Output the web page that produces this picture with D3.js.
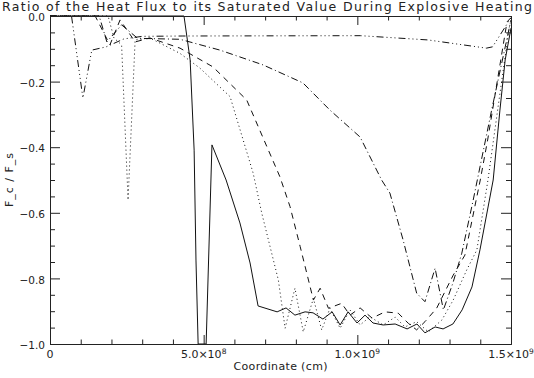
<!DOCTYPE html>
<html>
<head>
<meta charset="utf-8">
<script src="https://cdn.jsdelivr.net/npm/d3@7"></script>
<style>
  body { margin: 0; background: #fff; }
  svg { display: block; font-family: "DejaVu Sans", sans-serif; }
  text { fill: #222; }
</style>
</head>
<body>
<div id="chart"></div>
<script>
// x values in units of 1e8 cm, y = F_c / F_s
const solidX = [0, 4.36, 4.56, 4.69, 4.75, 4.82, 5.08, 5.27, 5.73, 6.18, 6.51, 6.77, 7.39, 7.68, 7.97, 8.30, 8.56, 8.88, 9.18, 9.44, 9.70, 9.99, 10.25, 10.51, 10.84, 11.23, 11.62, 11.94, 12.20, 12.53, 12.79, 13.11, 13.41, 13.73, 13.99, 14.42, 14.64, 14.81, 15.0];
const solidY = [0, 0, -0.134, -0.409, -0.744, -1.0, -1.0, -0.393, -0.5, -0.631, -0.753, -0.884, -0.902, -0.89, -0.912, -0.902, -0.905, -0.924, -0.902, -0.942, -0.902, -0.936, -0.912, -0.936, -0.942, -0.939, -0.954, -0.939, -0.966, -0.948, -0.954, -0.939, -0.896, -0.826, -0.713, -0.5, -0.287, -0.134, -0.037];

const dottedX = [0, 1.89, 2.08, 2.33, 2.54, 2.77, 3.25, 4.23, 4.88, 5.86, 6.61, 6.89, 7.16, 7.43, 7.65, 7.97, 8.24, 8.57, 8.84, 9.11, 9.44, 9.76, 10.09, 10.41, 10.84, 11.23, 11.55, 11.93, 12.31, 12.75, 13.12, 13.56, 13.89, 14.25, 14.62, 14.94, 15.0];
const dottedY = [0, 0, -0.067, -0.088, -0.561, -0.073, -0.067, -0.114, -0.159, -0.246, -0.479, -0.601, -0.703, -0.805, -0.952, -0.830, -0.963, -0.861, -0.957, -0.891, -0.952, -0.896, -0.942, -0.917, -0.942, -0.918, -0.948, -0.932, -0.963, -0.927, -0.866, -0.774, -0.713, -0.5, -0.25, -0.037, -0.012];

const dashedX = [0, 1.47, 1.95, 2.28, 2.77, 3.25, 4.23, 5.30, 6.40, 7.48, 7.81, 8.14, 8.41, 8.57, 8.79, 9.06, 9.49, 9.76, 10.09, 10.48, 10.90, 11.33, 11.66, 11.93, 12.20, 12.58, 13.12, 13.50, 14.0, 14.24, 14.87, 15.0];
const dashedY = [0, 0, -0.088, -0.012, -0.079, -0.067, -0.098, -0.155, -0.256, -0.49, -0.581, -0.703, -0.805, -0.866, -0.830, -0.891, -0.876, -0.912, -0.89, -0.921, -0.902, -0.906, -0.937, -0.957, -0.932, -0.891, -0.790, -0.729, -0.5, -0.378, -0.018, -0.005];

const dashDotX = [0, 1.6, 1.85, 2.33, 2.85, 4.23, 5.53, 6.93, 8.23, 9.11, 10.09, 10.79, 11.06, 11.49, 11.93, 12.20, 12.53, 12.80, 13.11, 13.40, 13.77, 14.37, 15.0];
const dashDotY = [0, 0, -0.079, -0.027, -0.068, -0.071, -0.104, -0.149, -0.204, -0.287, -0.369, -0.5, -0.540, -0.683, -0.845, -0.871, -0.769, -0.896, -0.814, -0.723, -0.561, -0.287, -0.012];

const dash3X = [0, 0.7, 1.07, 1.36, 1.83, 2.4, 3.0, 4.3, 10.1, 12.3, 14.2, 14.4, 14.8, 15.0];
const dash3Y = [0, 0, -0.25, -0.104, -0.094, -0.07, -0.062, -0.061, -0.06, -0.073, -0.098, -0.094, -0.035, -0.005];

const xMajor = [0, 5, 10, 15];
const xMinor = [1, 2, 3, 4, 6, 7, 8, 9, 11, 12, 13, 14];
const xTickBase = ["0", "5.0×10", "1.0×10", "1.5×10"];
const xTickExp = ["", "8", "9", "9"];
const yMajor = [0, -0.2, -0.4, -0.6, -0.8, -1.0];
const yMinor = [-0.05, -0.1, -0.15, -0.25, -0.3, -0.35, -0.45, -0.5, -0.55, -0.65, -0.7, -0.75, -0.85, -0.9, -0.95];
const yTickLabels = ["0.0", "\u22120.2", "\u22120.4", "\u22120.6", "\u22120.8", "\u22121.0"];

const series = [
  { xs: solidX, ys: solidY, dash: null },
  { xs: dottedX, ys: dottedY, dash: "1,3" },
  { xs: dashedX, ys: dashedY, dash: "6,5" },
  { xs: dashDotX, ys: dashDotY, dash: "7,3,1,3" },
  { xs: dash3X, ys: dash3Y, dash: "7,3,1,3,1,3,1,3" }
];

const W = 534, H = 378;
const L = 50, R = 511, T = 16, B = 344;

const svg = d3.select("#chart").append("svg").attr("width", W).attr("height", H);

const x = d3.scaleLinear().domain([0, 15]).range([L, R]);
const y = d3.scaleLinear().domain([-1, 0]).range([B, T]);

// ---------- curves ----------
svg.append("clipPath").attr("id", "clip")
  .append("rect").attr("x", L).attr("y", T - 1).attr("width", R - L).attr("height", B - T + 2);

const line = d3.line().x(d => x(d[0])).y(d => y(d[1]));
const plot = svg.append("g").attr("clip-path", "url(#clip)");
series.forEach(s => {
  plot.append("path")
    .datum(s.xs.map((v, i) => [v, s.ys[i]]))
    .attr("fill", "none").attr("stroke", "#111").attr("stroke-width", 1)
    .attr("stroke-dasharray", s.dash)
    .attr("d", line);
});

// ---------- axes (ticks point inward, IDL style) ----------
function styleAxis(g) {
  g.selectAll("path, line").attr("stroke", "#222").attr("stroke-width", 1);
  g.selectAll("text").remove();
}
svg.append("g").attr("transform", `translate(0,${B})`)
  .call(d3.axisBottom(x).tickValues(xMajor).tickSize(-9).tickSizeOuter(0)).call(styleAxis);
svg.append("g").attr("transform", `translate(0,${B})`)
  .call(d3.axisBottom(x).tickValues(xMinor).tickSize(-4.5).tickSizeOuter(0)).call(styleAxis);
svg.append("g").attr("transform", `translate(0,${T})`)
  .call(d3.axisTop(x).tickValues(xMajor).tickSize(-9).tickSizeOuter(0)).call(styleAxis);
svg.append("g").attr("transform", `translate(0,${T})`)
  .call(d3.axisTop(x).tickValues(xMinor).tickSize(-4.5).tickSizeOuter(0)).call(styleAxis);
svg.append("g").attr("transform", `translate(${L},0)`)
  .call(d3.axisLeft(y).tickValues(yMajor).tickSize(-10).tickSizeOuter(0)).call(styleAxis);
svg.append("g").attr("transform", `translate(${L},0)`)
  .call(d3.axisLeft(y).tickValues(yMinor).tickSize(-5).tickSizeOuter(0)).call(styleAxis);
svg.append("g").attr("transform", `translate(${R},0)`)
  .call(d3.axisRight(y).tickValues(yMajor).tickSize(-10).tickSizeOuter(0)).call(styleAxis);
svg.append("g").attr("transform", `translate(${R},0)`)
  .call(d3.axisRight(y).tickValues(yMinor).tickSize(-5).tickSizeOuter(0)).call(styleAxis);

// ---------- tick labels ----------
const xl = svg.append("g").attr("font-size", 11).attr("text-anchor", "middle");
xMajor.forEach((v, i) => {
  const t = xl.append("text").attr("x", x(v)).attr("y", 358);
  t.append("tspan").text(xTickBase[i]);
  if (xTickExp[i]) t.append("tspan").attr("font-size", 7.5).attr("dy", -4.5).text(xTickExp[i]);
});

svg.append("g").attr("font-size", 10.5).attr("text-anchor", "end")
  .selectAll("text").data(yMajor).enter().append("text")
  .attr("x", L - 5).attr("y", d => y(d) + 1.5).attr("dy", "0.36em")
  .text((d, i) => yTickLabels[i]);

// ---------- titles ----------
svg.append("text").attr("x", 2).attr("y", 11)
  .attr("font-size", 12.5).attr("textLength", 530).attr("lengthAdjust", "spacing")
  .text("Ratio of the Heat Flux to its Saturated Value During Explosive Heating");

svg.append("text").attr("x", (L + R) / 2).attr("y", 370).attr("text-anchor", "middle")
  .attr("font-size", 11).attr("textLength", 94).attr("lengthAdjust", "spacing")
  .text("Coordinate (cm)");

svg.append("text").attr("transform", `translate(13,${(T + B) / 2}) rotate(-90)`)
  .attr("text-anchor", "middle").attr("font-size", 11)
  .attr("textLength", 54).attr("lengthAdjust", "spacing").text("F_c / F_s");
</script>
</body>
</html>
